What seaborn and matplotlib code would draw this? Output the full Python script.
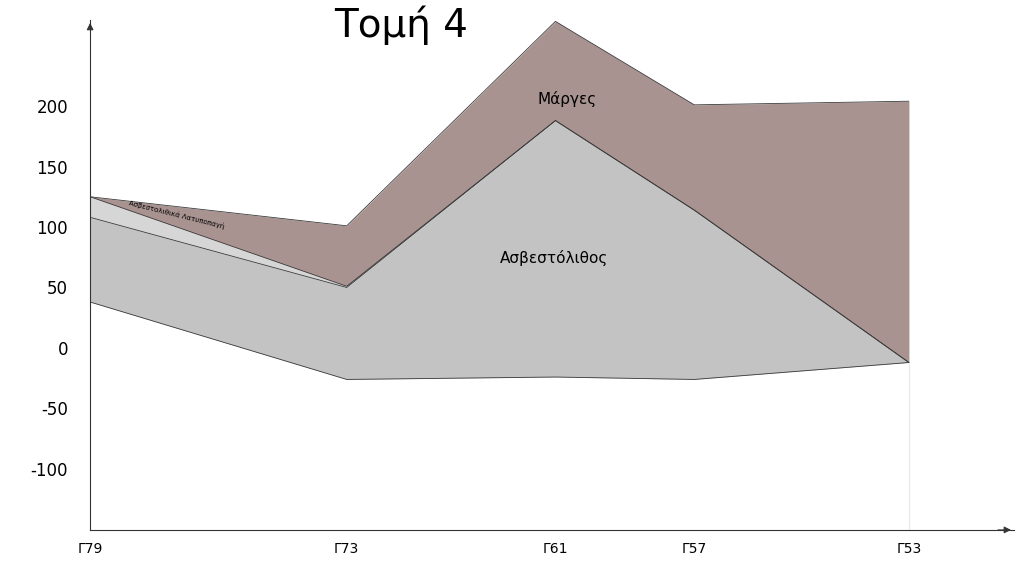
import numpy as np
import pandas as pd
import seaborn as sns
import matplotlib.pyplot as plt

# boreholes and horizontal position along the section
wells = ['Γ79', 'Γ73', 'Γ61', 'Γ57', 'Γ53']
dist = [0, 257, 466, 605, 820]

# layer boundaries (elevation)
marl_top = [125, 101, 270, 201, 204]
breccia_top = [125, 51, 188, 114, -12]
limestone_top = [108, 50, 188, 114, -12]
limestone_bottom = [38, -26, -24, -26, -12]

yticks = [-100, -50, 0, 50, 100, 150, 200]

sns.set_style('white')
fig = plt.figure(figsize=(10.24, 5.76), dpi=100)
ax = fig.add_axes([0.088, 0.08, 0.902, 0.885])

df = pd.DataFrame({'x': dist, 'marl': marl_top, 'breccia': breccia_top,
                   'lime': limestone_top, 'bottom': limestone_bottom})

ax.fill_between(df['x'], df['breccia'], df['marl'], color='#a89391', lw=0)
ax.fill_between(df['x'], df['lime'], df['breccia'], color='#d6d6d6', lw=0)
ax.fill_between(df['x'], df['bottom'], df['lime'], color='#c3c3c3', lw=0)
for col in ['marl', 'breccia', 'lime', 'bottom']:
    sns.lineplot(data=df, x='x', y=col, ax=ax, color='#3a3a3a', lw=0.6)
ax.plot([dist[-1], dist[-1]], [-150, -12], color='#e8e8e8', lw=0.8)

ax.text(478, 206, 'Μάργες', fontsize=11, ha='center', va='center', color='black')
ax.text(465, 74, 'Ασβεστόλιθος', fontsize=11, ha='center', va='center', color='black')
ax.text(38, 110, 'Ασβεστολιθικά Λατυποπαγή', fontsize=5, ha='left', va='center',
        rotation=-14, color='black')

ax.set_xlim(0, 925)
ax.set_ylim(-150.4, 271)
ax.set_xticks(dist)
ax.set_xticklabels(wells, fontsize=10, color='black')
ax.set_yticks(yticks)
ax.set_yticklabels([str(v) for v in yticks], fontsize=12, color='black')
ax.tick_params(axis='x', length=5, width=0.6, color='#333333')
ax.tick_params(axis='y', length=0, pad=16)
ax.set_xlabel('')
ax.set_ylabel('')
for s in ['top', 'right']:
    ax.spines[s].set_visible(False)
for s in ['left', 'bottom']:
    ax.spines[s].set_linewidth(0.8)
    ax.spines[s].set_color('#333333')
ax.annotate('', xy=(1.0, 0), xycoords='axes fraction', xytext=(0.98, 0),
            arrowprops=dict(arrowstyle='-|>', color='#333333', lw=0.8))
ax.annotate('', xy=(0, 1.0), xycoords='axes fraction', xytext=(0, 0.98),
            arrowprops=dict(arrowstyle='-|>', color='#333333', lw=0.8))

fig.text(0.392, 0.957, 'Τομή 4', fontsize=28, ha='center', va='center', color='black')

fig.savefig('out.png', dpi=100)
